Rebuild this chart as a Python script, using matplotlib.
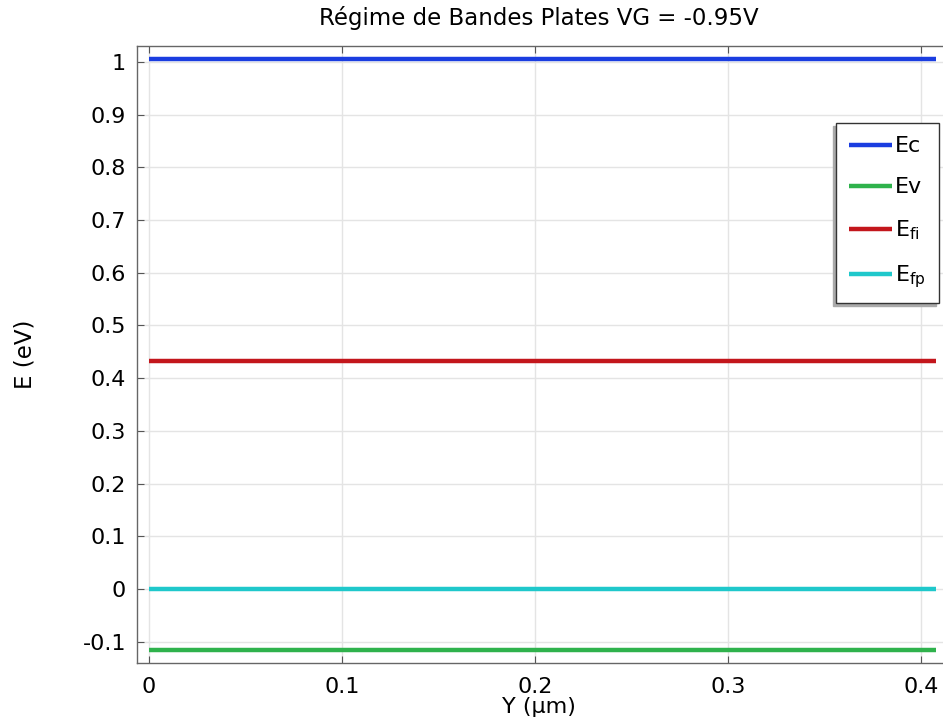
import matplotlib
matplotlib.use("Agg")
from matplotlib import pyplot as plt

# position along the channel (um) and band energies (eV)
y_um = [0.0, 0.408]
ec = [1.005, 1.005]
ev = [-0.116, -0.116]
efi = [0.433, 0.433]
efp = [0.0, 0.0]

labels = ["Ec", "Ev", r"E$_{\mathrm{fi}}$", r"E$_{\mathrm{fp}}$"]
colors = ["#1a3de0", "#2fb24c", "#c3161c", "#1fc8cb"]

xticks = [0, 0.1, 0.2, 0.3, 0.4]
yticks = [-0.1, 0, 0.1, 0.2, 0.3, 0.4, 0.5, 0.6, 0.7, 0.8, 0.9, 1]

plt.rcParams["font.family"] = "DejaVu Sans"
plt.rcParams["mathtext.default"] = "regular"

fig = plt.figure(figsize=(9.43, 7.24), dpi=100)
# axes run past the right edge of the figure
ax = fig.add_axes([137 / 943, 1 - 663 / 724, (958 - 137) / 943, (663 - 46) / 724])

for vals, lab, col in zip([ec, ev, efi, efp], labels, colors):
    ax.plot(y_um, vals, color=col, lw=3.2, label=lab, solid_capstyle="butt")

ax.set_xlim(-0.0062, 0.4192)
ax.set_ylim(-0.1405, 1.030)
ax.set_xticks(xticks)
ax.set_yticks(yticks)
ax.set_xticklabels(["0", "0.1", "0.2", "0.3", "0.4"])
ax.set_yticklabels(["-0.1", "0", "0.1", "0.2", "0.3", "0.4", "0.5",
                    "0.6", "0.7", "0.8", "0.9", "1"])
ax.tick_params(direction="in", length=5, width=0.8, color="#555555",
               labelsize=16, top=True)
ax.tick_params(axis="y", pad=8)
ax.tick_params(axis="x", pad=10)
ax.grid(True, color="#e4e4e4", lw=1)
ax.set_axisbelow(True)
for sp in ax.spines.values():
    sp.set_color("#666666")
    sp.set_linewidth(1.0)

ax.set_title("Régime de Bandes Plates VG = -0.95V", fontsize=16.5, pad=15, x=0.49)
ax.set_xlabel("Y (µm)", fontsize=16, labelpad=0, x=0.49)
ax.set_ylabel("E (eV)", fontsize=16.5, labelpad=33)

leg = ax.legend(loc="upper left", bbox_to_anchor=(836 / 943, 1 - 123 / 724),
                bbox_transform=fig.transFigure, fontsize=16, handlelength=1.9,
                handletextpad=0.15, labelspacing=0.95, borderpad=0.6,
                fancybox=False, framealpha=1, borderaxespad=0,
                shadow={"ox": -2, "oy": -2, "color": "#aaaaaa", "alpha": 1})
leg.get_frame().set_edgecolor("#333333")
leg.get_frame().set_linewidth(1.0)

fig.savefig("out.png", dpi=100)
